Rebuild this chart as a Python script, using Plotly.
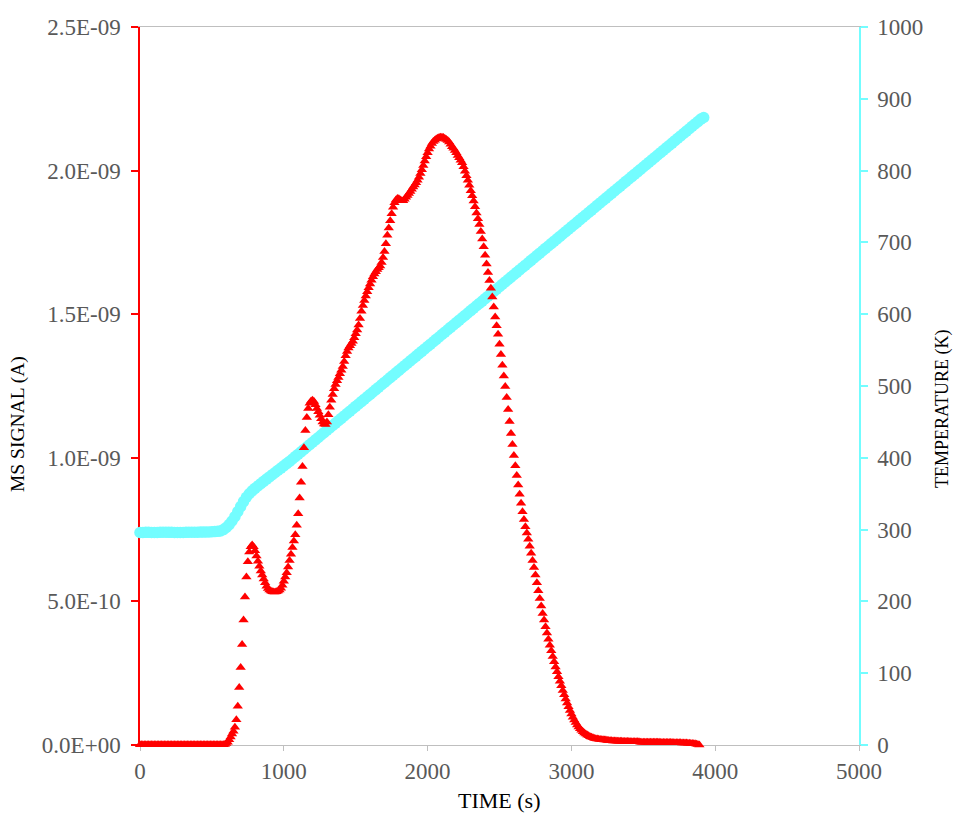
import plotly.graph_objects as go

# ---------------- data ----------------
# MS signal sampled every 10 s from 0 s to 3930 s, in nA (1 nA = 1E-09 A)
MS_SAMPLE_STEP_S = 10
MS_SIGNAL_NA = [
    0.001, 0.001, 0.001, 0.001, 0.001, 0.001, 0.001, 0.001, 0.001, 0.001,   # 0
    0.001, 0.001, 0.001, 0.001, 0.001, 0.001, 0.001, 0.001, 0.001, 0.001,   # 100
    0.001, 0.001, 0.001, 0.001, 0.001, 0.001, 0.001, 0.001, 0.001, 0.001,   # 200
    0.001, 0.001, 0.001, 0.001, 0.001, 0.001, 0.001, 0.001, 0.001, 0.001,   # 300
    0.001, 0.001, 0.001, 0.001, 0.001, 0.001, 0.001, 0.001, 0.001, 0.001,   # 400
    0.001, 0.001, 0.001, 0.001, 0.001, 0.001, 0.001, 0.001, 0.001, 0.002,   # 500
    0.005, 0.010, 0.018, 0.028, 0.038, 0.048, 0.062, 0.088, 0.135, 0.200,   # 600
    0.270, 0.350, 0.435, 0.515, 0.585, 0.638, 0.672, 0.690, 0.696, 0.690,   # 700
    0.676, 0.658, 0.640, 0.622, 0.606, 0.592, 0.578, 0.565, 0.553, 0.545,   # 800
    0.540, 0.536, 0.534, 0.533, 0.533, 0.534, 0.536, 0.540, 0.546, 0.556,   # 900
    0.570, 0.585, 0.600, 0.620, 0.642, 0.664, 0.688, 0.710, 0.732, 0.765,   # 1000
    0.805, 0.860, 0.915, 0.970, 1.035, 1.095, 1.140, 1.172, 1.190, 1.198,   # 1100
    1.200, 1.196, 1.185, 1.172, 1.160, 1.148, 1.136, 1.125, 1.118, 1.116,   # 1200
    1.125, 1.150, 1.176, 1.200, 1.220, 1.240, 1.255, 1.268, 1.280, 1.293,   # 1300
    1.305, 1.318, 1.335, 1.355, 1.370, 1.382, 1.390, 1.398, 1.406, 1.418,   # 1400
    1.432, 1.445, 1.462, 1.485, 1.510, 1.530, 1.548, 1.563, 1.578, 1.592,   # 1500
    1.605, 1.618, 1.630, 1.640, 1.648, 1.656, 1.662, 1.668, 1.680, 1.697,   # 1600
    1.718, 1.745, 1.775, 1.800, 1.825, 1.850, 1.872, 1.888, 1.898, 1.903,   # 1700
    1.902, 1.898, 1.895, 1.895, 1.900, 1.907, 1.913, 1.920, 1.927, 1.935,   # 1800
    1.943, 1.950, 1.958, 1.966, 1.977, 1.990, 2.003, 2.018, 2.033, 2.048,   # 1900
    2.062, 2.075, 2.085, 2.094, 2.101, 2.106, 2.110, 2.113, 2.115, 2.116,   # 2000
    2.116, 2.115, 2.112, 2.108, 2.105, 2.100, 2.092, 2.083, 2.078, 2.070,   # 2100
    2.062, 2.053, 2.045, 2.036, 2.027, 2.013, 1.998, 1.982, 1.966, 1.949,   # 2200
    1.930, 1.912, 1.894, 1.874, 1.852, 1.832, 1.812, 1.788, 1.762, 1.735,   # 2300
    1.705, 1.675, 1.645, 1.617, 1.590, 1.560, 1.525, 1.490, 1.460, 1.430,   # 2400
    1.395, 1.360, 1.322, 1.285, 1.248, 1.210, 1.168, 1.126, 1.085, 1.046,   # 2500
    1.008, 0.972, 0.938, 0.905, 0.873, 0.842, 0.812, 0.785, 0.760, 0.738,   # 2600
    0.716, 0.692, 0.668, 0.642, 0.618, 0.592, 0.565, 0.537, 0.510, 0.484,   # 2700
    0.458, 0.435, 0.412, 0.390, 0.368, 0.347, 0.328, 0.308, 0.290, 0.272,   # 2800
    0.255, 0.238, 0.222, 0.206, 0.190, 0.175, 0.160, 0.146, 0.133, 0.120,   # 2900
    0.108, 0.097, 0.087, 0.078, 0.070, 0.063, 0.057, 0.051, 0.046, 0.042,   # 3000
    0.038, 0.035, 0.032, 0.029, 0.027, 0.025, 0.023, 0.022, 0.021, 0.020,   # 3100
    0.019, 0.018, 0.018, 0.017, 0.017, 0.016, 0.016, 0.015, 0.015, 0.014,   # 3200
    0.014, 0.014, 0.013, 0.013, 0.013, 0.013, 0.012, 0.012, 0.012, 0.012,   # 3300
    0.012, 0.011, 0.011, 0.011, 0.011, 0.011, 0.011, 0.011, 0.010, 0.010,   # 3400
    0.010, 0.010, 0.010, 0.010, 0.010, 0.010, 0.010, 0.010, 0.010, 0.010,   # 3500
    0.010, 0.010, 0.009, 0.009, 0.009, 0.009, 0.009, 0.009, 0.009, 0.009,   # 3600
    0.009, 0.008, 0.008, 0.008, 0.008, 0.008, 0.008, 0.007, 0.007, 0.007,   # 3700
    0.007, 0.006, 0.006, 0.005, 0.005, 0.004, 0.004, 0.003, 0.002, 0.000,   # 3800
    -0.003, -0.005, -0.007, -0.008,                                         # 3900
]
MS_TIME_S = [i * MS_SAMPLE_STEP_S for i in range(len(MS_SIGNAL_NA))]

# Temperature sampled every 20 s from 0 s to 3920 s, in K
TEMP_SAMPLE_STEP_S = 20
TEMPERATURE_K = [
    296.0, 296.1, 296.2, 296.2, 296.1,   # 0
    296.0, 296.1, 296.2, 296.3, 296.3,   # 100
    296.2, 296.2, 296.1, 296.0, 296.0,   # 200
    296.1, 296.2, 296.3, 296.3, 296.4,   # 300
    296.4, 296.5, 296.5, 296.6, 296.7,   # 400
    297.0, 297.2, 297.6, 298.2, 300.0,   # 500
    303.0, 307.0, 312.0, 318.0, 325.0,   # 600
    332.0, 339.0, 345.0, 350.0, 354.0,   # 700
    357.5, 360.8, 364.0, 367.2, 370.3,   # 800
    373.4, 376.5, 379.6, 382.6, 385.7,   # 900
    388.8, 391.9, 395.0, 398.3, 401.7,   # 1000
    405.0, 408.3, 411.7, 415.0, 418.3,   # 1100
    421.7, 425.0, 428.3, 431.7, 435.0,   # 1200
    438.3, 441.7, 445.0, 448.3, 451.7,   # 1300
    455.0, 458.3, 461.7, 465.0, 468.3,   # 1400
    471.7, 475.0, 478.3, 481.7, 485.0,   # 1500
    488.3, 491.7, 495.0, 498.3, 501.7,   # 1600
    505.0, 508.3, 511.7, 515.0, 518.3,   # 1700
    521.7, 525.0, 528.3, 531.7, 535.0,   # 1800
    538.3, 541.7, 545.0, 548.3, 551.7,   # 1900
    555.0, 558.3, 561.7, 565.0, 568.3,   # 2000
    571.7, 575.0, 578.3, 581.7, 585.0,   # 2100
    588.3, 591.7, 595.0, 598.3, 601.7,   # 2200
    605.0, 608.3, 611.7, 615.0, 618.3,   # 2300
    621.7, 625.0, 628.3, 631.7, 635.0,   # 2400
    638.3, 641.7, 645.0, 648.3, 651.7,   # 2500
    655.0, 658.3, 661.7, 665.0, 668.3,   # 2600
    671.7, 675.0, 678.3, 681.7, 685.0,   # 2700
    688.3, 691.7, 695.0, 698.3, 701.7,   # 2800
    705.0, 708.3, 711.7, 715.0, 718.3,   # 2900
    721.7, 725.0, 728.3, 731.7, 735.0,   # 3000
    738.3, 741.7, 745.0, 748.3, 751.7,   # 3100
    755.0, 758.3, 761.7, 765.0, 768.3,   # 3200
    771.7, 775.0, 778.3, 781.7, 785.0,   # 3300
    788.3, 791.7, 795.0, 798.3, 801.7,   # 3400
    805.0, 808.3, 811.7, 815.0, 818.3,   # 3500
    821.7, 825.0, 828.3, 831.7, 835.0,   # 3600
    838.3, 841.7, 845.0, 848.3, 851.7,   # 3700
    855.0, 858.3, 861.7, 865.0, 868.3,   # 3800
    871.7, 874.0,                        # 3900
]
TEMP_TIME_S = [i * TEMP_SAMPLE_STEP_S for i in range(len(TEMPERATURE_K))]

X_TICKS = [0, 1000, 2000, 3000, 4000, 5000]
MS_TICK_VALUES_NA = [0.0, 0.5, 1.0, 1.5, 2.0, 2.5]
MS_TICK_LABELS = ["0.0E+00", "5.0E-10", "1.0E-09", "1.5E-09", "2.0E-09", "2.5E-09"]
TEMP_TICKS = [0, 100, 200, 300, 400, 500, 600, 700, 800, 900, 1000]

X_TITLE = "TIME (s)"
MS_TITLE = "MS SIGNAL (A)"
TEMP_TITLE = "TEMPERATURE (K)"

# ---------------- styling ----------------
RED = "#FF0000"
CYAN = "#73FDFF"
GRAY_LINE = "#BFBFBF"
TICK_TEXT = "#595959"
FONT = "Liberation Serif"

W, H = 954, 813
ML, MR, MT, MB = 140, 95, 27, 68
PW, PH = W - ML - MR, H - MT - MB

fig = go.Figure()

# temperature on the primary (right-side) axis, drawn first
fig.add_trace(go.Scatter(
    x=TEMP_TIME_S, y=TEMPERATURE_K, mode="markers", yaxis="y",
    marker=dict(symbol="circle", size=11.5, color=CYAN, line=dict(width=0)),
    cliponaxis=False, name=TEMP_TITLE, hoverinfo="x+y",
))

# MS signal on the overlaying (left-side) axis, so it is drawn on top
fig.add_trace(go.Scatter(
    x=MS_TIME_S, y=[v * 1e-9 for v in MS_SIGNAL_NA], mode="markers", yaxis="y2",
    marker=dict(symbol="triangle-up", size=9, color=RED, line=dict(width=0)),
    cliponaxis=False, name=MS_TITLE, hoverinfo="x+y",
))

tickfont = dict(family=FONT, size=23, color=TICK_TEXT)

fig.update_layout(
    width=W, height=H,
    margin=dict(l=ML, r=MR, t=MT, b=MB, pad=0),
    paper_bgcolor="white", plot_bgcolor="white",
    showlegend=False,
    xaxis=dict(
        range=[0, 5000], tickvals=X_TICKS, ticktext=[str(v) for v in X_TICKS],
        showgrid=False, zeroline=False,
        showline=True, linecolor=GRAY_LINE, linewidth=1, mirror=True,
        ticks="outside", ticklen=5, tickwidth=1, tickcolor=GRAY_LINE,
        tickfont=tickfont, layer="below traces",
    ),
    yaxis=dict(
        side="right", range=[0, 1000], tickvals=TEMP_TICKS,
        showgrid=False, zeroline=False,
        showline=True, linecolor=CYAN, linewidth=1.5,
        ticks="outside", ticklen=7, tickwidth=1.5, tickcolor=CYAN,
        tickfont=tickfont, layer="below traces", ticklabelstandoff=5,
    ),
    yaxis2=dict(
        overlaying="y", side="left", range=[0, 2.5e-9],
        tickvals=[v * 1e-9 for v in MS_TICK_VALUES_NA], ticktext=MS_TICK_LABELS,
        showgrid=False, zeroline=False,
        showline=True, linecolor=RED, linewidth=1.5,
        ticks="outside", ticklen=7, tickwidth=1.5, tickcolor=RED,
        tickfont=tickfont, layer="below traces", ticklabelstandoff=6,
    ),
    annotations=[
        dict(text=MS_TITLE, xref="paper", yref="paper",
             x=(18 - ML) / PW, y=(MT + PH - 424) / PH,
             xanchor="center", yanchor="middle", textangle=-90, showarrow=False,
             font=dict(family=FONT, size=19.5, color="#000000")),
        dict(text=TEMP_TITLE, xref="paper", yref="paper",
             x=(942 - ML) / PW, y=(MT + PH - 409) / PH,
             xanchor="center", yanchor="middle", textangle=-90, showarrow=False,
             font=dict(family=FONT, size=18, color="#000000")),
        dict(text=X_TITLE, xref="paper", yref="paper",
             x=(499 - ML) / PW, y=(MT + PH - 800) / PH,
             xanchor="center", yanchor="middle", showarrow=False,
             font=dict(family=FONT, size=22, color="#000000")),
    ],
)

fig.write_html("out.html")
